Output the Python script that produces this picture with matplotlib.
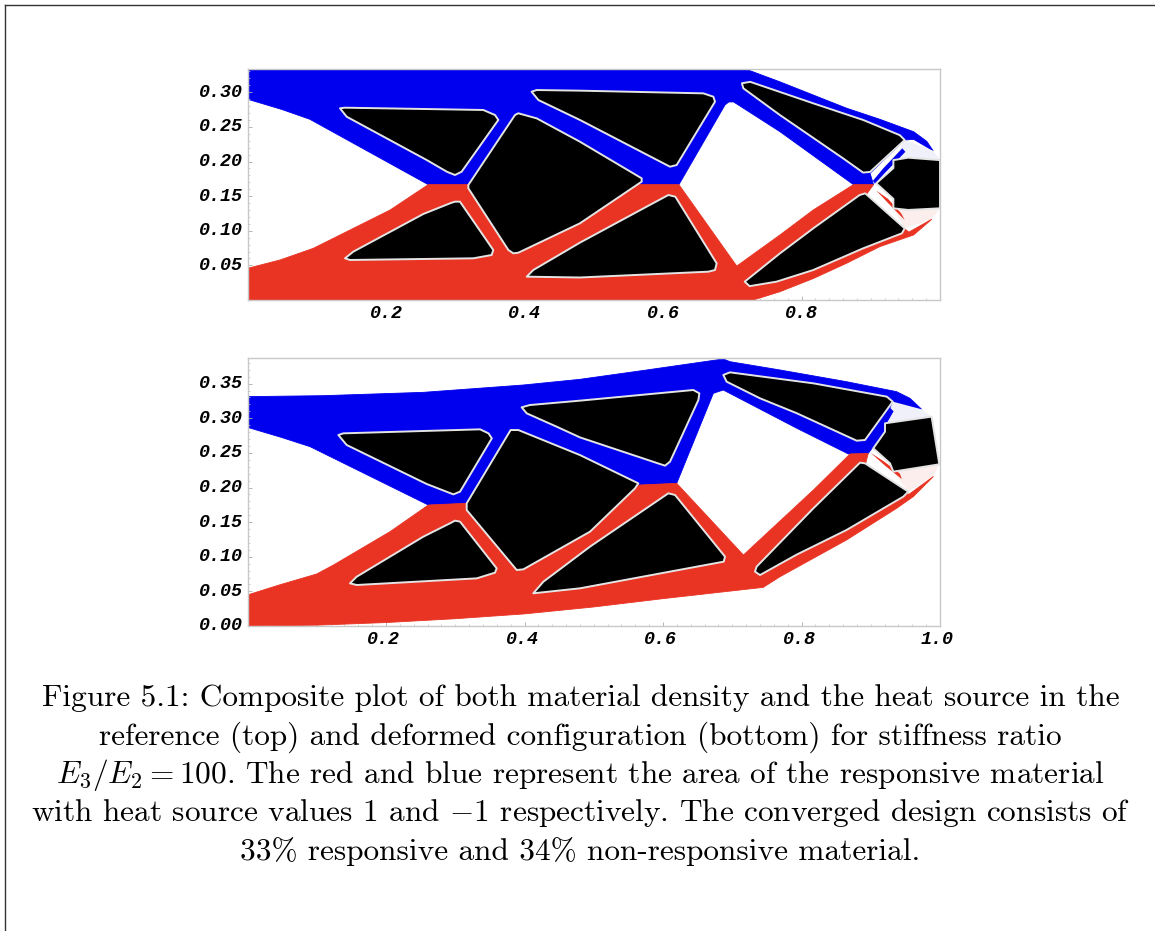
import matplotlib
matplotlib.use('Agg')
import matplotlib.pyplot as plt
from matplotlib.ticker import MultipleLocator
from matplotlib.transforms import ScaledTranslation

plt.rcParams['mathtext.fontset'] = 'cm'

BLUE = '#0000ee'
RED = '#e93323'

# Reference configuration (top panel), polygon vertices as (x, y)
top_blue = [(0, .334), (.718, .334), (.769, .315), (.817, .296), (.865, .277), (.913, .261), (.962, .243),
            (.981, .229), (.990, .2156), (.962, .232), (.949, .231), (.899, .183), (.904, .1666), (.875, .1666),
            (.769, .243), (.702, .286), (.695, .286), (.6895, .2816), (.623, .1666), (.261, .1666), (.09, .261),
            (.05, .275), (0, .29)]
top_red = [(0, 0), (.7304, 0), (.769, .012), (.817, .031), (.865, .053), (.913, .077), (.962, .094), (.988, .1165),
           (.955, .098), (.892, .15), (.904, .1666), (.875, .1666), (.817, .13), (.769, .094), (.7065, .049),
           (.623, .1666), (.261, .1666), (.206, .13), (.095, .0746), (.047, .0578), (0, .0457)]
top_pale_up = [(.949, .231), (.99, .2156), (1, .202), (.9327, .202)]
top_pale_low = [(.949, .1035), (.988, .1165), (1, .1324), (.9327, .1324)]
top_sliver_blue = [(.9455, .219), (.95, .214), (.92, .183), (.906, .168), (.903, .172), (.918, .19)]
top_sliver_red = [(.908, .158), (.925, .14), (.949, .1155), (.944, .125), (.925, .146)]
top_holes = [
    [(.1336, .2768), (.1408, .2777), (.3405, .2744), (.3574, .2671), (.3622, .26), (.3092, .1853), (.2996, .1805),
     (.2878, .1853), (.2587, .2022), (.1432, .2647)],
    [(.2996, .142), (.3068, .142), (.3549, .0722), (.3526, .065), (.3261, .0602), (.148, .0578), (.1408, .0602),
     (.1528, .0698), (.2539, .1242), (.2924, .1396)],
    [(.3863, .2672), (.3911, .2696), (.4176, .2623), (.48, .2286), (.5692, .1757), (.5692, .1709), (.48, .1107),
     (.3911, .0683), (.3839, .0674), (.3767, .0722), (.3189, .1613), (.3189, .1661)],
    [(.4103, .3008), (.4176, .3032), (.48, .3023), (.6582, .2984), (.6727, .2936), (.6751, .2864), (.6197, .1949),
     (.6101, .1925), (.48, .26), (.42, .2888)],
    [(.6077, .1516), (.6178, .1492), (.6775, .0529), (.6751, .0433), (.6654, .0409), (.48, .0325), (.4032, .0337),
     (.4127, .0433), (.48, .0828), (.5764, .1348)],
    [(.714, .313), (.726, .315), (.817, .284), (.889, .26), (.942, .238), (.949, .231), (.899, .185), (.889, .184),
     (.86, .2046), (.769, .267), (.716, .3057)],
    [(.725, .02), (.718, .0265), (.769, .0674), (.817, .1035), (.884, .1516), (.892, .154), (.949, .1035),
     (.945, .0963), (.889, .0746), (.817, .0433), (.764, .0265)],
    [(.9327, .202), (.954, .2055), (1, .202), (1, .1324), (.954, .13), (.9327, .1324), (.9327, .146), (.908, .1685),
     (.9327, .1905)],
]

# Deformed configuration (bottom panel)
bot_blue = [(0, .3312), (.1095, .3326), (.2538, .3374), (.3983, .348), (.48, .3562), (.5764, .3697), (.6871, .3856),
            (.6967, .3817), (.769, .3697), (.865, .3528), (.9373, .3384), (.9566, .3288), (.9735, .3129),
            (.945, .31), (.9037, .259), (.8964, .2493), (.8677, .2484), (.7935, .2854), (.6871, .3408), (.6727, .336),
            (.6198, .206), (.5667, .2036), (.3141, .1771), (.2611, .1747), (.0903, .259), (.05, .272), (0, .2869)]
bot_red = [(0, 0), (.1, .0012), (.2, .005), (.3, .0105), (.4, .0175), (.5, .0275), (.6, .0395), (.7448, .0558),
           (.769, .0712), (.865, .1242), (.9373, .1699), (.9614, .1868), (.9903, .2157), (.955, .19), (.892, .232),
           (.8964, .2493), (.8701, .2484), (.8172, .1964), (.7161, .1025), (.6198, .206), (.5667, .2036),
           (.3141, .1771), (.2611, .1747), (.2058, .1362), (.124, .088), (.0999, .0751), (.0457, .0592), (0, .0448)]
bot_pale_up = [(.9317, .324), (.9735, .3129), (.9879, .3023), (.9206, .2927)]
bot_pale_low = [(.9542, .194), (.9903, .2157), (.999, .2335), (.9326, .2229)]
bot_sliver_blue = [(.928, .315), (.933, .31), (.91, .27), (.898, .255), (.895, .259), (.912, .285)]
bot_sliver_red = [(.9, .25), (.92, .232), (.945, .212), (.942, .22), (.92, .237)]
bot_holes = [
    [(.1312, .2758), (.1384, .2782), (.3358, .284), (.348, .2782), (.3528, .271), (.3069, .194), (.2973, .1901),
     (.2587, .2051), (.1432, .2614)],
    [(.2996, .1521), (.3069, .1507), (.3598, .0833), (.3574, .077), (.331, .0688), (.1577, .0592), (.148, .0616),
     (.1577, .0712), (.2539, .129), (.2924, .1483)],
    [(.38, .283), (.3911, .283), (.48, .2469), (.5644, .206), (.5596, .1988), (.4946, .1362), (.3983, .0818),
     (.3887, .0809), (.3165, .1675), (.3165, .1771)],
    [(.3959, .3158), (.4079, .3191), (.48, .3254), (.6438, .3408), (.6525, .336), (.6511, .3264), (.6101, .2373),
     (.6029, .2315), (.48, .2724), (.4465, .2878), (.4032, .3071)],
    [(.6077, .1916), (.6174, .1892), (.6896, .1001), (.6876, .0929), (.48, .0544), (.4127, .0472), (.4273, .064),
     (.4946, .1146)],
    [(.6871, .3625), (.6967, .3663), (.8172, .3504), (.9232, .3312), (.9317, .324), (.8917, .2686), (.8797, .2676),
     (.7935, .3071), (.7401, .3288), (.6919, .3528)],
    [(.8845, .2359), (.8917, .2349), (.9542, .194), (.947, .1868), (.865, .1386), (.7929, .103), (.7401, .0736),
     (.7328, .0785), (.7352, .0857), (.8172, .17)],
    [(.9206, .2927), (.9879, .3023), (.999, .2335), (.9326, .2229), (.9278, .2349), (.9037, .2566), (.9206, .2806)],
]

top_yticks = [.05, .10, .15, .20, .25, .30]
bot_yticks = [0, .05, .10, .15, .20, .25, .30, .35]
top_xticks = [.2, .4, .6, .8]
bot_xticks = [.2, .4, .6, .8, 1.0]

caption = [
    'Figure 5.1: Composite plot of both material density and the heat source in the',
    'reference (top) and deformed configuration (bottom) for stiffness ratio',
    r'$E_3/E_2 = 100$. The red and blue represent the area of the responsive material',
    r'with heat source values 1 and $-1$ respectively. The converged design consists of',
    '33% responsive and 34% non-responsive material.',
]


def draw_panel(ax, blue, red, pale_up, pale_low, sliver_blue, sliver_red, holes, xticks, yticks, ymax, xshift):
    ax.fill(*zip(*blue), color=BLUE, lw=0.6, joinstyle='round', zorder=1)
    ax.fill(*zip(*red), color=RED, lw=0.6, joinstyle='round', zorder=2)
    ax.fill(*zip(*pale_up), color='#f0f0fb', lw=0, zorder=1)
    ax.fill(*zip(*pale_low), color='#fbeeec', lw=0, zorder=1)
    ax.fill(*zip(*sliver_blue), color=BLUE, lw=0, zorder=2)
    ax.fill(*zip(*sliver_red), color=RED, lw=0, zorder=2)
    for hole in holes:
        ax.fill(*zip(*hole), facecolor='black', edgecolor='#e4e4e4', lw=1.4, joinstyle='round', zorder=3)

    ax.set_xlim(0, 1)
    ax.set_ylim(0, ymax)
    ax.set_xticks(xticks)
    ax.set_yticks(yticks)
    ax.set_xticklabels(['%.1f' % v for v in xticks])
    ax.set_yticklabels(['%.2f' % v for v in yticks])
    ax.xaxis.set_minor_locator(MultipleLocator(.02))
    ax.yaxis.set_minor_locator(MultipleLocator(.01))
    ax.tick_params(which='major', direction='in', length=3, width=.6, color='#aaaaaa')
    ax.tick_params(which='minor', direction='in', length=1.5, width=.5, color='#bbbbbb')
    ax.tick_params(axis='x', which='major', pad=3.5)
    ax.tick_params(axis='y', which='major', pad=3)
    for lab in ax.get_xticklabels() + ax.get_yticklabels():
        lab.set_family('Liberation Mono')
        lab.set_fontweight('bold')
        lab.set_fontstyle('italic')
        lab.set_fontsize(13.2)
    # the labels sit a little off their ticks in the original
    for lab in ax.get_yticklabels():
        lab.set_transform(lab.get_transform() + ScaledTranslation(0, 2 / 100, fig.dpi_scale_trans))
    for lab in ax.get_xticklabels():
        lab.set_transform(lab.get_transform() + ScaledTranslation(xshift / 100, 0, fig.dpi_scale_trans))
    for sp in ax.spines.values():
        sp.set_color('#c8c8c8')
        sp.set_linewidth(1)
        sp.set_zorder(5)


W, H = 1155, 931
fig = plt.figure(figsize=(W / 100, H / 100), dpi=100)

ax1 = fig.add_axes([247.5 / W, 1 - 300 / H, 692.5 / W, 231 / H])
ax2 = fig.add_axes([247.5 / W, 1 - 626 / H, 692.5 / W, 268 / H])
draw_panel(ax1, top_blue, top_red, top_pale_up, top_pale_low, top_sliver_blue, top_sliver_red, top_holes,
           top_xticks, top_yticks, 231 / 692.5, 0)
draw_panel(ax2, bot_blue, bot_red, bot_pale_up, bot_pale_low, bot_sliver_blue, bot_sliver_red, bot_holes,
           bot_xticks, bot_yticks, 268 / 692.5, -2.5)

# page frame of the scanned thesis page
fig.add_artist(plt.Line2D([5 / W, 5 / W], [0, 1 - 5 / H], color='#333333', lw=1))
fig.add_artist(plt.Line2D([5 / W, 1], [1 - 5 / H, 1 - 5 / H], color='#333333', lw=1))

for i, line in enumerate(caption):
    fig.text(580.5 / W, 1 - (698.5 + i * 38.3) / H, line, family='cmr10', fontsize=22.55, ha='center', va='center',
             color='black')

fig.savefig('out.png', dpi=100)
